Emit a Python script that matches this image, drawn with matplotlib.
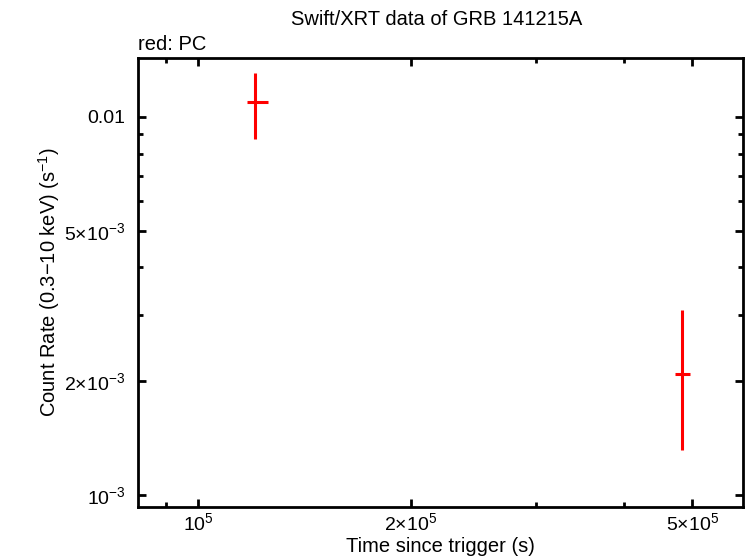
import matplotlib
matplotlib.use("Agg")
import matplotlib.pyplot as plt
from matplotlib.ticker import FixedLocator, NullFormatter

plt.rcParams['font.family'] = ['Liberation Sans', 'DejaVu Sans']
plt.rcParams['mathtext.fontset'] = 'custom'
plt.rcParams['mathtext.rm'] = 'Liberation Sans'
plt.rcParams['mathtext.it'] = 'Liberation Sans'
plt.rcParams['mathtext.default'] = 'regular'

# Data (PC mode)
time = [1.204e5, 4.83e5]
time_lo = [1.173e5, 4.73e5]
time_hi = [1.255e5, 4.96e5]
rate = [0.01096, 2.09e-3]
rate_lo = [0.00876, 1.318e-3]
rate_hi = [0.01307, 3.09e-3]

xticks = [1e5, 2e5, 5e5]
xticklabels = [r'$10^{5}$', r'$2{\times}10^{5}$', r'$5{\times}10^{5}$']
yticks = [1e-3, 2e-3, 5e-3, 0.01]
yticklabels = [r'$10^{-3}$', r'$2{\times}10^{-3}$', r'$5{\times}10^{-3}$', '0.01']
xminor = [9e4, 3e5, 4e5]
yminor = [3e-3, 4e-3, 6e-3, 7e-3, 8e-3, 9e-3]

fig = plt.figure(figsize=(7.46, 5.58), dpi=100)
ax = fig.add_axes([138/746, 51/558, 605/746, 449/558])
ax.set_xscale('log')
ax.set_yscale('log')

xerr = [[t - l for t, l in zip(time, time_lo)], [h - t for t, h in zip(time, time_hi)]]
yerr = [[r - l for r, l in zip(rate, rate_lo)], [h - r for r, h in zip(rate, rate_hi)]]
ax.errorbar(time, rate, xerr=xerr, yerr=yerr, fmt='none', ecolor='#ff0000',
            elinewidth=2.2, capsize=0)

ax.set_xlim(82200, 589500)
ax.set_ylim(0.000930, 0.01432)

ax.xaxis.set_major_locator(FixedLocator(xticks))
ax.set_xticklabels(xticklabels)
ax.xaxis.set_minor_locator(FixedLocator(xminor))
ax.xaxis.set_minor_formatter(NullFormatter())
ax.yaxis.set_major_locator(FixedLocator(yticks))
ax.set_yticklabels(yticklabels)
ax.yaxis.set_minor_locator(FixedLocator(yminor))
ax.yaxis.set_minor_formatter(NullFormatter())

ax.tick_params(which='both', direction='in', top=True, right=True, width=2, labelsize=14)
ax.tick_params(axis='x', which='major', pad=4)
ax.tick_params(axis='y', which='major', pad=9)
ax.tick_params(which='major', length=6)
ax.tick_params(which='minor', length=3.5)
for s in ax.spines.values():
    s.set_linewidth(2)

ax.set_xlabel('Time since trigger (s)', fontsize=14.5, labelpad=1.5)
ax.set_ylabel('Count Rate (0.3\u221210 keV) (s$^{-1}$)', fontsize=14.5, va='center')
ax.yaxis.set_label_coords(-0.147, 0.5)
fig.text(0.585, 0.955, 'Swift/XRT data of GRB 141215A', ha='center', fontsize=14.5)
fig.text(138/746, 0.911, 'red: PC', ha='left', fontsize=14.5)

fig.savefig('out.png', dpi=100)
